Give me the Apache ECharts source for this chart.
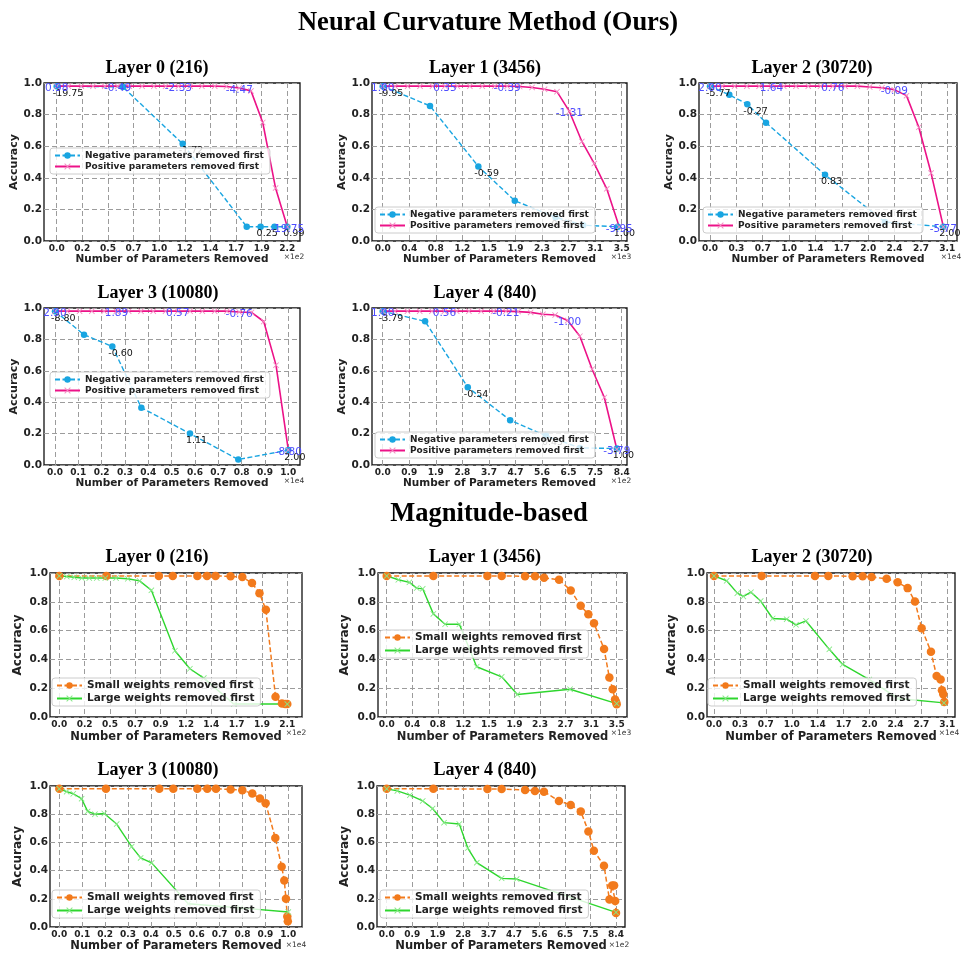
<!DOCTYPE html>
<html>
<head>
<meta charset="utf-8">
<script src="https://cdn.jsdelivr.net/npm/echarts@6.0.0/dist/echarts.min.js"></script>
<style>
html, body { margin: 0; padding: 0; background: #fff; }
#chart { width: 961px; height: 953px; }
</style>
</head>
<body>
<div id="chart"></div>
<script>
// ---- tick labels (axis values are shown x 10^k) ----
var ticks216 = ['0.0', '0.2', '0.5', '0.7', '1.0', '1.2', '1.4', '1.7', '1.9', '2.2'];
var ticks213 = ['0.0', '0.2', '0.5', '0.7', '0.9', '1.2', '1.4', '1.7', '1.9', '2.1'];
var ticks3456 = ['0.0', '0.4', '0.8', '1.2', '1.5', '1.9', '2.3', '2.7', '3.1', '3.5'];
var ticks30720 = ['0.0', '0.3', '0.7', '1.0', '1.4', '1.7', '2.0', '2.4', '2.7', '3.1'];
var ticks10080 = ['0.0', '0.1', '0.2', '0.3', '0.4', '0.5', '0.6', '0.7', '0.8', '0.9', '1.0'];
var ticks840 = ['0.0', '0.9', '1.9', '2.8', '3.7', '4.7', '5.6', '6.5', '7.5', '8.4'];

// ---- Neural Curvature Method ----
var c0NegX = [0, 62, 118, 178, 191, 204, 216];
var c0NegY = [0.98, 0.975, 0.615, 0.09, 0.09, 0.09, 0.09];
var c0NegNote = ['-19.75', '', '-1.72', '', '0.25', '', '0.99'];
var c0PosX = [0, 11, 23, 34, 45, 57, 68, 80, 91, 102, 114, 125, 136, 148, 159, 171, 182, 193, 205, 216];
var c0PosY = [0.98, 0.98, 0.98, 0.98, 0.98, 0.98, 0.98, 0.98, 0.98, 0.98, 0.98, 0.98, 0.98, 0.98, 0.978, 0.968, 0.95, 0.75, 0.335, 0.09];
var c0PosNote = ['0.98', '', '', '', '', '-0.49', '', '', '', '', '-2.33', '', '', '', '', '-4.47', '', '', '', '-19.75'];

var c1NegX = [0, 684, 1383, 1910, 2500, 2900, 3400];
var c1NegY = [0.98, 0.855, 0.472, 0.255, 0.15, 0.1, 0.09];
var c1NegNote = ['-9.95', '', '-0.59', '', '0.37', '', '1.00'];
var c1PosX = [0, 180, 360, 540, 720, 900, 1080, 1260, 1440, 1620, 1800, 1980, 2160, 2340, 2520, 2700, 2880, 3060, 3240, 3420];
var c1PosY = [0.98, 0.98, 0.98, 0.98, 0.98, 0.98, 0.98, 0.98, 0.98, 0.98, 0.98, 0.978, 0.972, 0.96, 0.945, 0.82, 0.63, 0.49, 0.33, 0.09];
var c1PosNote = ['1.00', '', '', '', '', '0.35', '', '', '', '', '-0.39', '', '', '', '', '-1.31', '', '', '', '-9.95'];

var c2NegX = [0, 2500, 4830, 7250, 14890, 22650, 30200];
var c2NegY = [0.98, 0.925, 0.866, 0.749, 0.419, 0.12, 0.09];
var c2NegNote = ['-5.77', '', '-0.27', '', '0.83', '', '2.00'];
var c2PosX = [0, 1590, 3180, 4770, 6360, 7950, 9540, 11130, 12720, 14310, 15900, 17490, 19080, 20670, 22260, 23850, 25440, 27030, 28620, 30210];
var c2PosY = [0.98, 0.98, 0.98, 0.98, 0.98, 0.98, 0.98, 0.98, 0.98, 0.98, 0.98, 0.98, 0.98, 0.975, 0.97, 0.958, 0.92, 0.72, 0.43, 0.09];
var c2PosNote = ['2.00', '', '', '', '', '1.64', '', '', '', '', '0.76', '', '', '', '', '-0.09', '', '', '', '-5.77'];

var c3NegX = [0, 1253, 2477, 3730, 5832, 7920, 10080];
var c3NegY = [0.98, 0.83, 0.755, 0.365, 0.2, 0.035, 0.095];
var c3NegNote = ['-8.80', '', '-0.60', '', '1.11', '', '2.00'];
var c3PosX = [0, 531, 1061, 1592, 2122, 2653, 3183, 3714, 4244, 4775, 5305, 5836, 6366, 6897, 7427, 7958, 8488, 9019, 9549, 10080];
var c3PosY = [0.98, 0.98, 0.98, 0.98, 0.98, 0.98, 0.98, 0.98, 0.98, 0.98, 0.98, 0.98, 0.98, 0.98, 0.98, 0.975, 0.972, 0.914, 0.636, 0.096];
var c3PosNote = ['2.90', '', '', '', '', '1.89', '', '', '', '', '0.57', '', '', '', '', '-0.76', '', '', '', '-8.80'];

var c4NegX = [0, 149, 299, 448, 574, 693, 823];
var c4NegY = [0.98, 0.915, 0.495, 0.285, 0.186, 0.109, 0.105];
var c4NegNote = ['-3.79', '', '-0.54', '', '0.45', '', '1.00'];
var c4PosX = [0, 43, 87, 130, 173, 217, 260, 303, 346, 390, 433, 476, 520, 563, 606, 650, 693, 736, 779, 823];
var c4PosY = [0.98, 0.98, 0.98, 0.98, 0.98, 0.98, 0.98, 0.98, 0.98, 0.98, 0.98, 0.977, 0.972, 0.96, 0.955, 0.92, 0.82, 0.61, 0.43, 0.1];
var c4PosNote = ['1.00', '', '', '', '', '0.56', '', '', '', '', '-0.21', '', '', '', '', '-1.00', '', '', '', '-3.79'];

// ---- Magnitude-based ----
var m0SmallX = [0, 44, 93, 106, 129, 138, 146, 160, 171, 180, 187, 193, 202, 208, 211, 213];
var m0SmallY = [0.98, 0.98, 0.98, 0.98, 0.98, 0.98, 0.98, 0.977, 0.972, 0.93, 0.86, 0.745, 0.14, 0.093, 0.09, 0.09];
var m0LargeX = [0, 7, 14, 21, 28, 35, 43, 53, 64, 75, 86, 108, 122, 135, 163, 213];
var m0LargeY = [0.98, 0.975, 0.97, 0.965, 0.965, 0.965, 0.965, 0.965, 0.96, 0.945, 0.88, 0.46, 0.335, 0.27, 0.09, 0.09];

var m1SmallX = [0, 701, 1513, 1728, 2079, 2229, 2364, 2590, 2765, 2915, 3030, 3115, 3266, 3346, 3396, 3431, 3446, 3456];
var m1SmallY = [0.98, 0.98, 0.98, 0.98, 0.977, 0.977, 0.967, 0.953, 0.879, 0.772, 0.714, 0.651, 0.472, 0.274, 0.193, 0.121, 0.105, 0.088];
var m1LargeX = [0, 175, 341, 451, 541, 701, 877, 1092, 1352, 1728, 1963, 2755, 3456];
var m1LargeY = [0.98, 0.953, 0.935, 0.895, 0.89, 0.716, 0.644, 0.644, 0.349, 0.279, 0.156, 0.193, 0.093];

var m2SmallX = [0, 6276, 13297, 15053, 18256, 19573, 20758, 22733, 24181, 25497, 26463, 27340, 28569, 29315, 29842, 30017, 30193, 30325];
var m2SmallY = [0.98, 0.98, 0.98, 0.98, 0.977, 0.977, 0.972, 0.96, 0.935, 0.895, 0.802, 0.616, 0.453, 0.284, 0.26, 0.186, 0.158, 0.105];
var m2LargeX = [0, 1668, 3072, 3862, 4871, 6144, 7724, 9567, 10796, 12113, 15185, 16940, 20450, 24268, 30281];
var m2LargeY = [0.98, 0.946, 0.86, 0.837, 0.867, 0.805, 0.684, 0.679, 0.64, 0.667, 0.47, 0.365, 0.26, 0.128, 0.098];

var m3SmallX = [0, 2054, 4402, 5018, 6074, 6514, 6896, 7542, 8055, 8495, 8833, 9083, 9508, 9787, 9904, 9977, 10036, 10060];
var m3SmallY = [0.98, 0.98, 0.98, 0.98, 0.98, 0.98, 0.98, 0.976, 0.97, 0.947, 0.911, 0.878, 0.631, 0.428, 0.329, 0.2, 0.075, 0.04];
var m3LargeX = [0, 323, 616, 983, 1247, 1570, 1981, 2524, 3184, 3580, 4064, 5678, 7953, 10080];
var m3LargeY = [0.98, 0.96, 0.945, 0.91, 0.82, 0.8, 0.805, 0.73, 0.57, 0.49, 0.455, 0.165, 0.136, 0.106];

var m4SmallX = [0, 171, 369, 421, 507, 543, 576, 631, 674, 711, 739, 759, 796, 816, 826, 833, 837, 840];
var m4SmallY = [0.98, 0.98, 0.978, 0.978, 0.972, 0.965, 0.96, 0.894, 0.866, 0.819, 0.678, 0.541, 0.435, 0.195, 0.294, 0.294, 0.184, 0.1];
var m4LargeX = [0, 39, 85, 132, 168, 210, 266, 297, 330, 421, 476, 840];
var m4LargeY = [0.98, 0.965, 0.935, 0.894, 0.84, 0.74, 0.73, 0.56, 0.456, 0.345, 0.34, 0.104];

var NEG = 'Negative parameters removed first';
var POS = 'Positive parameters removed first';
var SMALL = 'Small weights removed first';
var LARGE = 'Large weights removed first';

var FONT = 'DejaVu Sans';
var XMARK = 'path://M1,0L5,4L9,0L10,1L6,5L10,9L9,10L5,6L1,10L0,9L4,5L0,1Z';

var styles = {
	neg: { color: '#19a5e1', mark: '#19a5e1', dash: [5, 2.5], width: 1.4, symbol: 'circle', size: 6.5,
		labelColor: '#111', labelSize: 9.5, align: 'left', offset: [-4, 7] },
	pos: { color: '#ec1288', mark: '#f38cc2', dash: 'solid', width: 1.6, symbol: XMARK, size: 6,
		labelColor: '#4d4dff', labelSize: 10.5, align: 'center', offset: [0, 2] },
	small: { color: '#f27a1c', mark: '#f27a1c', dash: [5, 2.5], width: 1.5, symbol: 'circle', size: 8.5 },
	large: { color: '#2ed62e', mark: '#86e886', dash: 'solid', width: 1.4, symbol: XMARK, size: 6 }
};

// layout: box = [left, right, top, bottom], t0/tN = pixel of first/last tick
var panels = [
	{ title: 'Layer 0 (216)', tp: [157, 68], box: [44, 300, 83, 241], t0: 56.7, tN: 287.3, tickMax: 216, ticks: ticks216, exp: '\u00d71e2',
		lg: [50, 148], yGap: 21, xGap: 12, big: false,
		lines: [[NEG, c0NegX, c0NegY, c0NegNote, 'neg'], [POS, c0PosX, c0PosY, c0PosNote, 'pos']] },
	{ title: 'Layer 1 (3456)', tp: [485, 68], box: [372, 627, 83, 241], t0: 382.7, tN: 621.7, tickMax: 3456, ticks: ticks3456, exp: '\u00d71e3',
		lg: [375, 207], yGap: 23, xGap: 12, big: false,
		lines: [[NEG, c1NegX, c1NegY, c1NegNote, 'neg'], [POS, c1PosX, c1PosY, c1PosNote, 'pos']] },
	{ title: 'Layer 2 (30720)', tp: [812, 68], box: [699, 957, 83, 241], t0: 710, tN: 947.3, tickMax: 30720, ticks: ticks30720, exp: '\u00d71e4',
		lg: [703, 207], yGap: 22.5, xGap: 12, big: false,
		lines: [[NEG, c2NegX, c2NegY, c2NegNote, 'neg'], [POS, c2PosX, c2PosY, c2PosNote, 'pos']] },
	{ title: 'Layer 3 (10080)', tp: [158, 293], box: [44, 300, 308, 465], t0: 55, tN: 288.3, tickMax: 10080, ticks: ticks10080, exp: '\u00d71e4',
		lg: [50, 372], yGap: 21.5, xGap: 12, big: false,
		lines: [[NEG, c3NegX, c3NegY, c3NegNote, 'neg'], [POS, c3PosX, c3PosY, c3PosNote, 'pos']] },
	{ title: 'Layer 4 (840)', tp: [485, 293], box: [372, 627, 308, 465], t0: 382.7, tN: 621.7, tickMax: 840, ticks: ticks840, exp: '\u00d71e2',
		lg: [375, 432], yGap: 22.5, xGap: 12, big: false,
		lines: [[NEG, c4NegX, c4NegY, c4NegNote, 'neg'], [POS, c4PosX, c4PosY, c4PosNote, 'pos']] },

	{ title: 'Layer 0 (216)', tp: [157, 557], box: [50, 302, 573, 717], t0: 59.3, tN: 287.3, tickMax: 213, ticks: ticks213, exp: '\u00d71e2',
		lg: [52, 678], yGap: 26, xGap: 14, big: true,
		lines: [[SMALL, m0SmallX, m0SmallY, null, 'small'], [LARGE, m0LargeX, m0LargeY, null, 'large']] },
	{ title: 'Layer 1 (3456)', tp: [485, 557], box: [378, 627, 573, 717], t0: 386.7, tN: 616.7, tickMax: 3456, ticks: ticks3456, exp: '\u00d71e3',
		lg: [380, 630], yGap: 27.5, xGap: 14, big: true,
		lines: [[SMALL, m1SmallX, m1SmallY, null, 'small'], [LARGE, m1LargeX, m1LargeY, null, 'large']] },
	{ title: 'Layer 2 (30720)', tp: [812, 557], box: [707, 955, 573, 717], t0: 714, tN: 947.3, tickMax: 30720, ticks: ticks30720, exp: '\u00d71e4',
		lg: [708, 678], yGap: 29, xGap: 14, big: true,
		lines: [[SMALL, m2SmallX, m2SmallY, null, 'small'], [LARGE, m2LargeX, m2LargeY, null, 'large']] },
	{ title: 'Layer 3 (10080)', tp: [158, 770], box: [50, 302, 786, 929], t0: 59.3, tN: 288.3, tickMax: 10080, ticks: ticks10080, exp: '\u00d71e4',
		lg: [52, 890], yGap: 26, xGap: 13, big: true,
		lines: [[SMALL, m3SmallX, m3SmallY, null, 'small'], [LARGE, m3LargeX, m3LargeY, null, 'large']] },
	{ title: 'Layer 4 (840)', tp: [485, 770], box: [377, 625, 786, 929], t0: 386.7, tN: 616, tickMax: 840, ticks: ticks840, exp: '\u00d71e2',
		lg: [380, 890], yGap: 26.5, xGap: 13, big: true,
		lines: [[SMALL, m4SmallX, m4SmallY, null, 'small'], [LARGE, m4LargeX, m4LargeY, null, 'large']] }
];

function makeSeries(name, xs, ys, notes, st, gi) {
	var data = [];
	for (var i = 0; i < xs.length; i++) {
		var item = { value: [xs[i], ys[i]] };
		if (notes && notes[i]) {
			item.label = { show: true, formatter: notes[i] };
		}
		data.push(item);
	}
	return {
		type: 'line',
		name: name,
		xAxisIndex: gi,
		yAxisIndex: gi,
		data: data,
		symbol: st.symbol,
		symbolSize: st.size,
		lineStyle: { color: st.color, width: st.width, type: st.dash },
		itemStyle: { color: st.mark },
		label: {
			show: false,
			position: 'inside',
			align: st.align || 'center',
			verticalAlign: 'middle',
			offset: st.offset || [0, 0],
			color: st.labelColor || '#111',
			fontFamily: FONT,
			fontSize: st.labelSize || 10
		},
		emphasis: { disabled: true },
		animation: false
	};
}

var grids = [], xAxes = [], yAxes = [], series = [], legends = [], texts = [];
var gridLine = { color: '#9c9c9c', type: [5, 3], width: 1 };

texts.push({ type: 'text', x: 488, y: 23, style: { text: 'Neural Curvature Method (Ours)', font: 'bold 26.5px "Liberation Serif"', fill: '#000', align: 'center', verticalAlign: 'middle' } });
texts.push({ type: 'text', x: 489, y: 514, style: { text: 'Magnitude-based', font: 'bold 26.5px "Liberation Serif"', fill: '#000', align: 'center', verticalAlign: 'middle' } });

panels.forEach(function (p, i) {
	var b = p.box;
	var perPx = p.tickMax / (p.tN - p.t0);
	var step = p.tickMax / (p.ticks.length - 1);
	var tickVals = p.ticks.map(function (t, k) { return k * step; });

	grids.push({
		left: b[0], top: b[2], width: b[1] - b[0], height: b[3] - b[2],
		show: true, borderColor: '#111', borderWidth: 1.3, backgroundColor: '#fff'
	});
	xAxes.push({
		type: 'value',
		gridIndex: i,
		min: -(p.t0 - b[0]) * perPx,
		max: p.tickMax + (b[1] - p.tN) * perPx,
		name: 'Number of Parameters Removed',
		nameLocation: 'middle',
		nameGap: p.xGap,
		nameTextStyle: { fontFamily: FONT, fontWeight: 'bold', fontSize: p.big ? 11.5 : 10.5, color: '#222' },
		axisLine: { show: false },
		axisTick: { show: false, customValues: tickVals },
		axisLabel: {
			customValues: tickVals,
			formatter: function (v) { return p.ticks[Math.round(v / step)]; },
			fontFamily: FONT, fontWeight: 'bold', fontSize: 9, color: '#222', margin: 3
		},
		splitLine: { show: true, lineStyle: gridLine }
	});
	yAxes.push({
		type: 'value',
		gridIndex: i,
		min: 0, max: 1, interval: 0.2,
		name: 'Accuracy',
		nameLocation: 'middle',
		nameGap: p.yGap,
		nameTextStyle: { fontFamily: FONT, fontWeight: 'bold', fontSize: p.big ? 12 : 11, color: '#222' },
		axisLine: { show: false },
		axisTick: { show: false },
		axisLabel: {
			formatter: function (v) { return v.toFixed(1); },
			fontFamily: FONT, fontWeight: 'bold', fontSize: 10.5, color: '#222', margin: 2
		},
		splitLine: { show: true, lineStyle: gridLine }
	});
	p.lines.forEach(function (l) {
		series.push(makeSeries(l[0], l[1], l[2], l[3], styles[l[4]], i));
	});
	legends.push({
		orient: 'vertical',
		left: p.lg[0], top: p.lg[1],
		data: [p.lines[0][0], p.lines[1][0]],
		backgroundColor: 'rgba(255,255,255,0.8)',
		borderColor: '#cccccc', borderWidth: 1, borderRadius: 3,
		padding: p.big ? [2, 6, 2, 4] : [3, 6, 3, 4],
		itemGap: 2,
		itemWidth: 25, itemHeight: 8,
		selectedMode: false,
		textStyle: { fontFamily: FONT, fontWeight: 'bold', fontSize: p.big ? 10.5 : 9, color: '#222' }
	});
	texts.push({ type: 'text', x: p.tp[0], y: p.tp[1], style: { text: p.title, font: 'bold 18px "Liberation Serif"', fill: '#000', align: 'center', verticalAlign: 'middle' } });
	texts.push({ type: 'text', x: b[1] - 6, y: b[3] + 16, style: { text: p.exp, font: '7.5px "DejaVu Sans"', fill: '#333', align: 'center', verticalAlign: 'middle' } });
});

var chart = echarts.init(document.getElementById('chart'), null, { renderer: 'canvas' });
chart.setOption({
	animation: false,
	backgroundColor: '#fff',
	grid: grids,
	xAxis: xAxes,
	yAxis: yAxes,
	legend: legends,
	series: series,
	graphic: texts
});
</script>
</body>
</html>
